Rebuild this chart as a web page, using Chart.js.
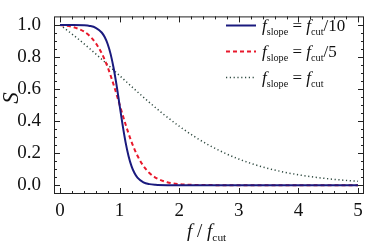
<!DOCTYPE html>
<html>
<head>
<meta charset="utf-8">
<script src="https://cdn.jsdelivr.net/npm/chart.js@4.4.1/dist/chart.umd.min.js"></script>
<style>
  body { margin: 0; background: #fff; }
  #wrap { position: relative; width: 366px; height: 249px; }
  .txt { position: absolute; font-family: "Liberation Serif", "DejaVu Serif", serif; color: #111; white-space: nowrap; }
  .txt sub { font-size: 0.6em; vertical-align: -0.35em; line-height: 0; }
  .leg { font-size: 17px; left: 262px; }
</style>
</head>
<body>
<div id="wrap">
  <canvas id="c" width="366" height="249"></canvas>
  <div class="txt leg" style="top:16px"><i>f</i><sub>slope</sub> = <i>f</i><sub>cut</sub>/10</div>
  <div class="txt leg" style="top:42px"><i>f</i><sub>slope</sub> = <i>f</i><sub>cut</sub>/5</div>
  <div class="txt leg" style="top:68px"><i>f</i><sub>slope</sub> = <i>f</i><sub>cut</sub></div>
  <div class="txt" style="left:187px; top:220px; font-size:19px"><i>f</i> / <i>f</i><sub>cut</sub></div>
  <div class="txt" style="left:0px; top:85px; width:22px; text-align:center; font-size:23px; transform: rotate(-90deg);"><i>S</i></div>
</div>
<script>
// f / f_cut sample positions and S values
const xSharp = [0, 0.2, 0.4, 0.5, 0.6, 0.7, 0.75, 0.8, 0.85, 0.9, 0.95, 1.0, 1.05, 1.1, 1.15, 1.2, 1.25, 1.3, 1.4, 1.5, 1.6, 1.8, 2.0, 2.5, 3, 4, 5];
const sSharp = [1.0, 0.9997, 0.9976, 0.9934, 0.9821, 0.9526, 0.9242, 0.8808, 0.8176, 0.7311, 0.6225, 0.5, 0.3775, 0.2689, 0.1824, 0.1192, 0.0759, 0.0474, 0.018, 0.0067, 0.0025, 0.0003, 0.0001, 0, 0, 0, 0];

const xMid = [0, 0.2, 0.4, 0.5, 0.6, 0.7, 0.8, 0.9, 1.0, 1.1, 1.2, 1.3, 1.4, 1.5, 1.6, 1.8, 2.0, 2.2, 2.5, 3, 4, 5];
const sMid = [1.0, 0.9886, 0.959, 0.9304, 0.8868, 0.8231, 0.736, 0.6267, 0.5034, 0.3801, 0.2708, 0.1837, 0.12, 0.0764, 0.0477, 0.0181, 0.0068, 0.0025, 0.0006, 0.0001, 0, 0];

const xWide = [0, 0.25, 0.5, 0.75, 1.0, 1.25, 1.5, 1.75, 2.0, 2.25, 2.5, 2.75, 3.0, 3.25, 3.5, 3.75, 4.0, 4.25, 4.5, 4.75, 5.0];
const sWide = [1.0, 0.929, 0.8515, 0.769, 0.6839, 0.5989, 0.5164, 0.4389, 0.3679, 0.3046, 0.2495, 0.2025, 0.1631, 0.1304, 0.1038, 0.0822, 0.0649, 0.0511, 0.0401, 0.0314, 0.0246];

const xTicks = [0, 1, 2, 3, 4, 5];
const yTicks = [0, 0.2, 0.4, 0.6, 0.8, 1.0];

const pts = (xs, ys) => xs.map((x, i) => ({ x: x, y: ys[i] }));

// frame, inward ticks (major + minor on all sides) and legend line samples
const frame = {
  id: "frame",
  afterDraw(chart) {
    const ctx = chart.ctx;
    const a = chart.chartArea;
    const xs = chart.scales.x, ys = chart.scales.y;
    ctx.save();
    ctx.strokeStyle = "#222";
    ctx.lineWidth = 1;
    ctx.strokeRect(a.left + 0.5, a.top + 0.5, a.right - a.left - 1, a.bottom - a.top - 1);
    ctx.beginPath();
    for (let v = 0; v <= 5.0001; v += 0.2) {
      const major = Math.abs(v - Math.round(v)) < 1e-6;
      const len = major ? 6 : 3;
      const px = Math.round(xs.getPixelForValue(v)) + 0.5;
      ctx.moveTo(px, a.bottom); ctx.lineTo(px, a.bottom - len);
      ctx.moveTo(px, a.top); ctx.lineTo(px, a.top + len);
    }
    for (let v = 0; v <= 1.0001; v += 0.05) {
      const major = Math.abs(v * 5 - Math.round(v * 5)) < 1e-6;
      const len = major ? 6 : 3;
      const py = Math.round(ys.getPixelForValue(v)) + 0.5;
      ctx.moveTo(a.left, py); ctx.lineTo(a.left + len, py);
      ctx.moveTo(a.right, py); ctx.lineTo(a.right - len, py);
    }
    ctx.stroke();
    const rows = [25, 51, 77];
    chart.data.datasets.forEach((ds, i) => {
      ctx.beginPath();
      ctx.strokeStyle = ds.borderColor;
      ctx.lineWidth = ds.borderWidth;
      ctx.setLineDash(ds.borderDash || []);
      ctx.moveTo(226, rows[i] + 0.5);
      ctx.lineTo(256, rows[i] + 0.5);
      ctx.stroke();
    });
    ctx.restore();
  }
};

new Chart(document.getElementById("c"), {
  type: "line",
  data: {
    datasets: [
      { data: pts(xSharp, sSharp), borderColor: "#1a1a7e", borderWidth: 2, cubicInterpolationMode: "monotone" },
      { data: pts(xMid, sMid), borderColor: "#e8192c", borderWidth: 2, borderDash: [4, 3], cubicInterpolationMode: "monotone" },
      { data: pts(xWide, sWide), borderColor: "#2f4a40", borderWidth: 1.5, borderDash: [1.2, 2.6], cubicInterpolationMode: "monotone" }
    ]
  },
  options: {
    responsive: false,
    animation: false,
    layout: { padding: { top: 2, right: 2, left: 0, bottom: 0 } },
    elements: { point: { radius: 0 } },
    plugins: { legend: { display: false }, tooltip: { enabled: false } },
    scales: {
      x: {
        type: "linear", min: -0.1, max: 5.1,
        grid: { display: false },
        border: { display: false },
        afterBuildTicks: s => { s.ticks = xTicks.map(v => ({ value: v })); },
        afterFit: s => { s.height = 55; },
        ticks: { padding: -2, color: "#111", font: { family: "Liberation Serif", size: 19 }, callback: v => String(v) }
      },
      y: {
        type: "linear", min: -0.055, max: 1.053,
        grid: { display: false },
        border: { display: false },
        afterBuildTicks: s => { s.ticks = yTicks.map(v => ({ value: v })); },
        afterFit: s => { s.width = 54; },
        ticks: { padding: 5, color: "#111", font: { family: "Liberation Serif", size: 19 }, callback: v => v.toFixed(1) }
      }
    }
  },
  plugins: [frame]
});
</script>
</body>
</html>
